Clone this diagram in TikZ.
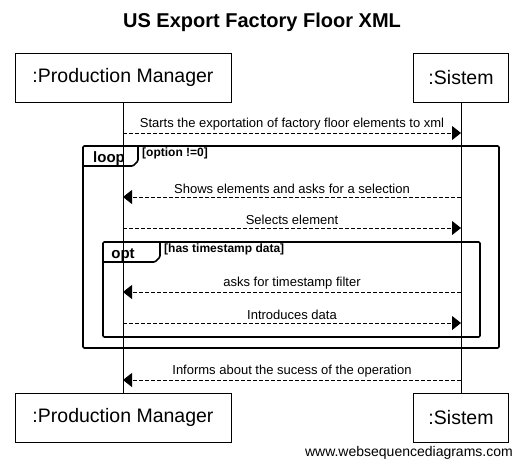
\documentclass[tikz,border=0pt]{standalone}
\usepackage{fontspec}
\setmainfont{Liberation Sans}
\usetikzlibrary{arrows.meta,positioning}
\tikzset{
  actor/.style={rectangle, draw=black, line width=0.8pt, minimum height=49pt, inner sep=0pt, font=\fontsize{19.5}{22}\selectfont, fill=white},
  lifeline/.style={draw=black, line width=0.8pt},
  msg/.style={line width=0.8pt, dash pattern=on 4pt off 2pt, -{Triangle[length=9pt,width=14pt]}},
  msglabel/.style={above, inner sep=2.5pt, font=\fontsize{13}{15}\selectfont},
  frame/.style={draw=black, line width=1.6pt, rounded corners=1.2pt},
  tablabel/.style={anchor=base, inner sep=0pt, font=\bfseries\fontsize{15}{17}\selectfont},
  guard/.style={anchor=north west, inner sep=0pt, font=\bfseries\fontsize{12}{14}\selectfont},
}
\begin{document}
\begin{tikzpicture}[x=1pt,y=-1pt]
  \useasboundingbox (0,0) rectangle (523,466);
  \node[font=\bfseries\fontsize{20}{24}\selectfont] (title) at (262,22) {US Export Factory Floor XML};
  % participants
  \node[actor, minimum width=216pt] (pmtop) at (123,77.5) {:Production Manager};
  \node[actor, minimum width=95pt] (sytop) at (461,77.5) {:Sistem};
  \node[actor, minimum width=216pt] (pmbot) at (123,417.5) {:Production Manager};
  \node[actor, minimum width=95pt] (sybot) at (461,417.5) {:Sistem};
  % frames
  \draw[frame] (83,146) rectangle (499,348);
  \draw[frame] (83,166) -- (133,166) -- (138,161) -- (138,146);
  \node[tablabel] (looptag) at (109,162) {loop};
  \node[guard] (loopguard) at (142,148) {[option !=0]};
  \draw[frame] (103,242) rectangle (480,337);
  \draw[frame] (103,262) -- (155,262) -- (160,257) -- (160,242);
  \node[tablabel] (opttag) at (123,258) {opt};
  \node[guard] (optguard) at (164,244) {[has timestamp data]};
  % lifelines
  \draw[lifeline] (pmtop) -- (pmbot);
  \draw[lifeline] (sytop) -- (sybot);
  % messages
  \foreach \m/\y in {m1/133, m2/197, m3/228, m4/292, m5/323, m6/380} {
    \coordinate (pm-\m) at (123,\y);
    \coordinate (sy-\m) at (461,\y);
  }
  \draw[msg] (pm-m1) -- node[msglabel] {Starts the exportation of factory floor elements to xml} (sy-m1);
  \draw[msg] (sy-m2) -- node[msglabel] {Shows elements and asks for a selection} (pm-m2);
  \draw[msg] (pm-m3) -- node[msglabel] {Selects element} (sy-m3);
  \draw[msg] (sy-m4) -- node[msglabel] {asks for timestamp filter} (pm-m4);
  \draw[msg] (pm-m5) -- node[msglabel] {Introduces data} (sy-m5);
  \draw[msg] (sy-m6) -- node[msglabel] {Informs about the sucess of the operation} (pm-m6);
  \node[anchor=east, inner sep=0pt, font=\fontsize{14}{16}\selectfont] (credit) at (513,453) {www.websequencediagrams.com};
\end{tikzpicture}
\end{document}
